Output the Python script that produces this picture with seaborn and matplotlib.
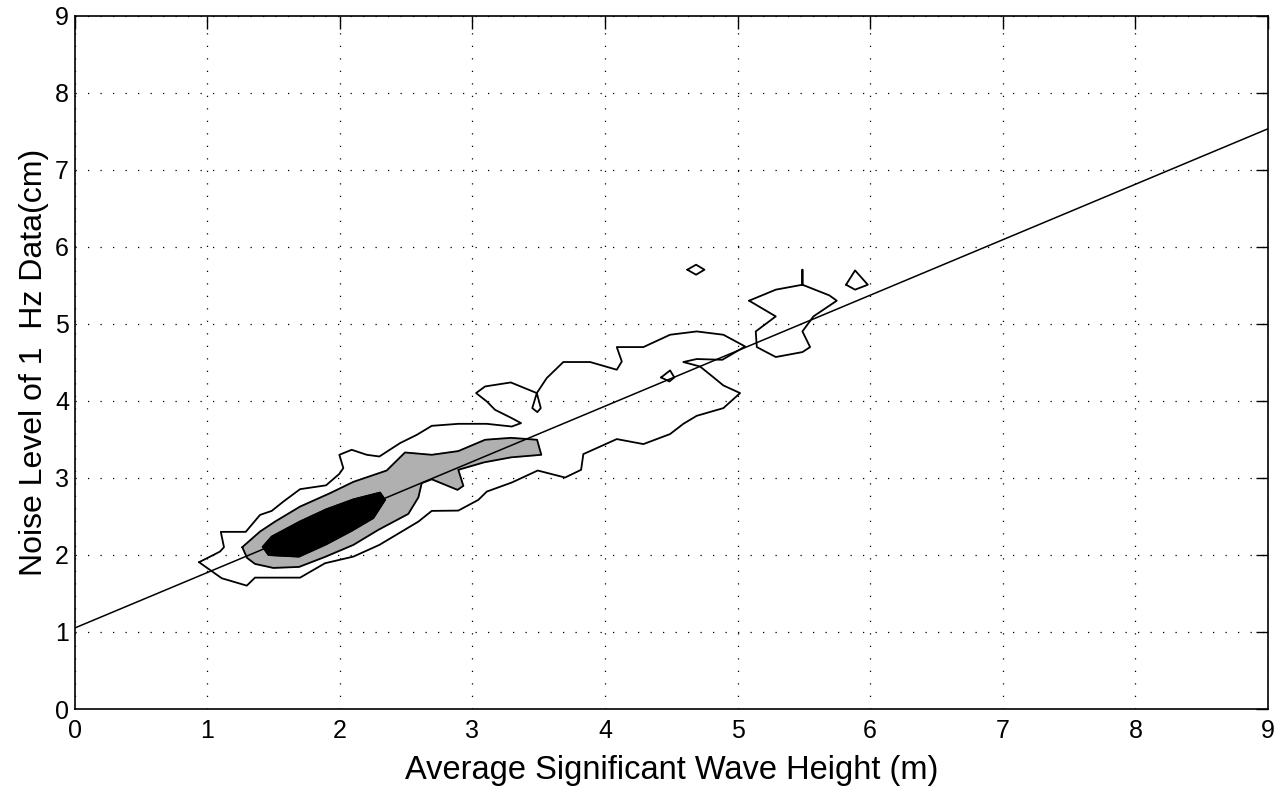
import matplotlib
matplotlib.use("Agg")
import matplotlib.pyplot as plt
import seaborn as sns
import pandas as pd

# ---- data (data units) ----
fit_x = [0.0, 9.0]
fit_y = [1.05, 7.53]

outer_x = [0.939, 1.097, 1.127, 1.103, 1.291, 1.399, 1.487, 1.575, 1.701, 1.897, 1.997, 2.027,
           1.997, 2.090, 2.204, 2.299, 2.455, 2.581, 2.694, 2.894, 3.109, 3.297, 3.367, 3.297,
           3.171, 3.109, 3.028, 3.096, 3.290, 3.486, 3.452, 3.490, 3.516, 3.486, 3.561, 3.686,
           3.888, 4.089, 4.127, 4.089, 4.290, 4.491, 4.692, 4.893, 5.057, 4.885, 4.692, 4.591,
           4.717, 4.810, 4.893, 5.019, 4.893, 4.692, 4.591, 4.491, 4.290, 4.089, 3.837, 3.820,
           3.699, 3.493, 3.297, 3.109, 3.045, 2.894, 2.694, 2.593, 2.299, 2.103, 1.889, 1.701,
           1.361, 1.299, 1.110, 0.939]
outer_y = [1.905, 2.043, 2.100, 2.299, 2.299, 2.519, 2.571, 2.692, 2.853, 2.903, 3.052, 3.126,
           3.299, 3.364, 3.299, 3.277, 3.451, 3.558, 3.675, 3.701, 3.701, 3.666, 3.710, 3.775,
           3.883, 3.991, 4.100, 4.186, 4.238, 4.100, 3.905, 3.853, 3.905, 4.100, 4.295, 4.503,
           4.503, 4.403, 4.510, 4.697, 4.697, 4.857, 4.900, 4.857, 4.705, 4.532, 4.542, 4.503,
           4.445, 4.316, 4.199, 4.100, 3.905, 3.805, 3.701, 3.568, 3.438, 3.503, 3.308, 3.104,
           3.004, 3.095, 2.939, 2.822, 2.714, 2.575, 2.571, 2.432, 2.130, 1.978, 1.892, 1.705,
           1.705, 1.601, 1.697, 1.905]

blob_x = [5.087, 5.288, 5.489, 5.489, 5.489, 5.692, 5.748, 5.572, 5.489, 5.547, 5.489, 5.288,
          5.145, 5.137, 5.288, 5.087]
blob_y = [5.299, 5.442, 5.506, 5.701, 5.506, 5.368, 5.299, 5.095, 4.900, 4.697, 4.632, 4.568,
          4.697, 4.900, 5.095, 5.299]

isl1_x = [4.621, 4.687, 4.750, 4.687, 4.621]
isl1_y = [5.701, 5.766, 5.701, 5.636, 5.701]
isl2_x = [5.818, 5.886, 5.982, 5.886, 5.818]
isl2_y = [5.506, 5.692, 5.506, 5.442, 5.506]
isl3_x = [4.423, 4.491, 4.523, 4.486, 4.423]
isl3_y = [4.303, 4.394, 4.303, 4.251, 4.303]

mid_x = [1.265, 1.399, 1.512, 1.701, 1.927, 2.103, 2.354, 2.492, 2.694, 2.894, 3.096, 3.292,
         3.488, 3.520, 3.292, 3.088, 2.894, 2.932, 2.888, 2.694, 2.618, 2.593, 2.517, 2.291,
         2.103, 1.889, 1.693, 1.499, 1.361, 1.301, 1.265]
mid_y = [2.100, 2.303, 2.432, 2.627, 2.801, 2.948, 3.095, 3.329, 3.299, 3.347, 3.494, 3.519,
         3.494, 3.299, 3.266, 3.201, 3.104, 2.896, 2.844, 2.981, 2.931, 2.747, 2.532, 2.325,
         2.130, 1.974, 1.844, 1.831, 1.883, 1.961, 2.100]

core_x = [1.419, 1.487, 1.701, 1.897, 2.103, 2.304, 2.342, 2.253, 2.090, 1.897, 1.693, 1.499,
          1.462, 1.419]
core_y = [2.104, 2.238, 2.435, 2.591, 2.721, 2.809, 2.714, 2.477, 2.312, 2.136, 1.977, 1.994,
          2.000, 2.104]

x_ticks = [0, 1, 2, 3, 4, 5, 6, 7, 8, 9]
y_ticks = [0, 1, 2, 3, 4, 5, 6, 7, 8, 9]
x_label = "Average Significant Wave Height (m)"
y_label = "Noise Level of 1  Hz Data(cm)"

# ---- style ----
sns.set_theme(style="white")
plt.rcParams["font.family"] = ["Liberation Sans", "DejaVu Sans"]
plt.rcParams["xtick.direction"] = "in"
plt.rcParams["ytick.direction"] = "in"

fig = plt.figure(figsize=(12.74, 7.87), dpi=100)
ax = fig.add_axes([0.0585, 0.0991, 0.9368, 0.8812])


def draw(xs, ys, lw=1.3):
    df = pd.DataFrame({"x": xs, "y": ys})
    sns.lineplot(data=df, x="x", y="y", sort=False, estimator=None, color="black",
                 linewidth=lw, ax=ax, legend=False)


# filled contours
ax.fill(mid_x, mid_y, color="#b0b0b0", zorder=2)
ax.fill(core_x, core_y, color="black", zorder=3)

for xs, ys in [(outer_x, outer_y), (blob_x, blob_y), (isl1_x, isl1_y), (isl2_x, isl2_y),
               (isl3_x, isl3_y), (mid_x, mid_y), (core_x, core_y)]:
    draw(xs, ys)

draw(fit_x, fit_y, lw=1.1)

ax.set_xlim(0, 9)
ax.set_ylim(0, 9)
ax.set_xticks(x_ticks)
ax.set_yticks(y_ticks)
ax.set_xticklabels([str(t) for t in x_ticks], fontsize=18)
ax.set_yticklabels([str(t) for t in y_ticks], fontsize=18)
ax.tick_params(axis="x", pad=7)
ax.tick_params(axis="y", pad=4)
ax.tick_params(axis="both", which="both", length=9, width=1.0, color="black",
               top=True, right=True, labelcolor="black")
ax.grid(True, linestyle=(0, (1, 9)), color="black", linewidth=0.9)
for s in ax.spines.values():
    s.set_visible(True)
    s.set_color("black")
    s.set_linewidth(1.2)

ax.set_xlabel(x_label, fontsize=23.5, color="black", labelpad=9)
ax.set_ylabel(y_label, fontsize=23, color="black", labelpad=4)

fig.savefig("out.png", dpi=100, facecolor="white")
